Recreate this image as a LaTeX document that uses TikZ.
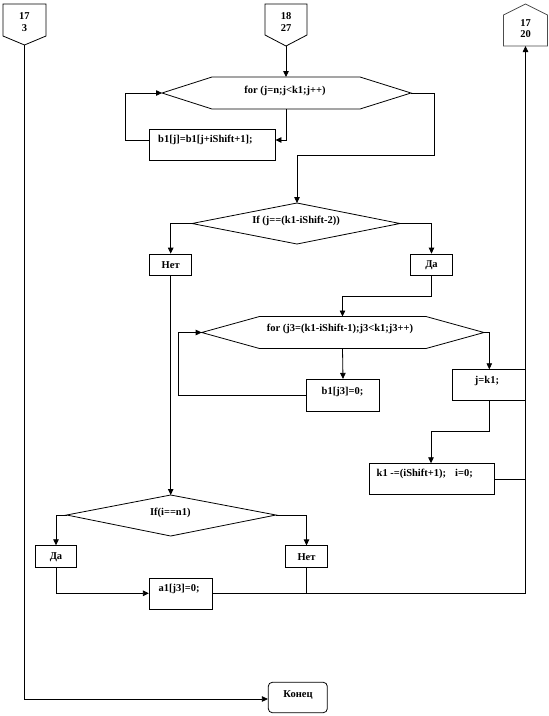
\documentclass[tikz,border=0pt]{standalone}
\usepackage{fontspec}
\setmainfont{Liberation Serif}
\usetikzlibrary{arrows.meta}
\begin{document}
\begin{tikzpicture}[x=1pt,y=-1pt,
  ln/.style={line width=.8pt, draw=black},
  arr/.style={ln, -{Triangle[length=6pt,width=5.5pt]}},
  box/.style={ln, rectangle, inner sep=0pt},
  lbl/.style={font=\bfseries\fontsize{10.5}{11.5}\selectfont, inner sep=0pt, align=center},
]
\useasboundingbox[fill=white] (0,0) rectangle (549,716);

% off-page connectors
\draw[ln] (3,4) -- (46,4) -- (46,36) -- (24.5,45) coordinate (c1p) -- (3,36) -- cycle;
\node[lbl] (c1t) at (24.5,22) {17\\3};
\draw[ln] (265,4) -- (307,4) -- (307,35) -- (286,46) coordinate (c2p) -- (265,35) -- cycle;
\node[lbl] (c2t) at (286,22) {18\\27};
\draw[ln, draw=black!70] (503.5,46) coordinate (c3b) -- (503.5,15) -- (525.5,4) -- (547.5,15) -- (547.5,46) -- cycle;
\coordinate (c3p) at (525.5,46);
\node[lbl] (c3t) at (525.5,28.5) {17\\20};

% for 1
\draw[ln] (162,93) coordinate (f1L) -- (212,77) -- (286,77) coordinate (f1T) -- (360,77) -- (411,93) coordinate (f1R)
  -- (360,109) -- (286,109) coordinate (f1B) -- (212,109) -- cycle;
\node[lbl] (f1t) at (285,91) {for (j=n;j<k1;j++)};

\node[box, minimum width=125.7pt, minimum height=31.4pt] (b1) at (212.2,145) {};
\node[lbl, anchor=west] (b1t) at (158,140) {b1[j]=b1[j+iShift+1];};

% if 1
\draw[ln] (297,203) coordinate (d1T) -- (400,223.5) coordinate (d1R) -- (297,244) coordinate (d1B) -- (192,223.5) coordinate (d1L) -- cycle;
\node[lbl] (d1t) at (296,221) {If (j==(k1-iShift-2))};

\node[box, minimum width=41.7pt, minimum height=21.7pt] (no1) at (170.7,264.9) {};
\node[lbl] (no1t) at (170.7,265.5) {Нет};
\node[box, minimum width=41.7pt, minimum height=21.7pt] (yes1) at (431.5,264.9) {};
\node[lbl] (yes1t) at (431.5,265.5) {Да};

% for 2
\draw[ln] (201.7,332.5) coordinate (f2L) -- (259.5,316.5) -- (342.5,316.5) coordinate (f2T) -- (426,316.5) -- (484,332.5) coordinate (f2R)
  -- (426,348.5) -- (342.5,348.5) coordinate (f2B) -- (259.5,348.5) -- cycle;
\node[lbl] (f2t) at (340,328.5) {for (j3=(k1-iShift-1);j3<k1;j3++)};

\node[box, minimum width=72.6pt, minimum height=31.7pt] (b2) at (343,395.2) {};
\node[lbl] (b2t) at (342.5,392) {b1[j3]=0;};

\node[box, minimum width=72.7pt, minimum height=31.4pt] (jk) at (488.7,385) {};
\node[lbl] (jkt) at (487,381) {j=k1;};

\node[box, minimum width=125pt, minimum height=30.7pt] (k1) at (431.8,478.7) {};
\node[lbl, anchor=west] (k1t) at (376.5,473.5) {k1 -=(iShift+1);\hspace{9pt}i=0;};

% if 2
\draw[ln] (170.7,495) coordinate (d2T) -- (276,515) coordinate (d2R) -- (170.7,536) coordinate (d2B) -- (66.7,515) coordinate (d2L) -- cycle;
\node[lbl] (d2t) at (170.3,513) {If(i==n1)};

\node[box, minimum width=41.7pt, minimum height=21.6pt] (yes2) at (56,556.5) {};
\node[lbl] (yes2t) at (56,557.5) {Да};
\node[box, minimum width=41.7pt, minimum height=21.6pt] (no2) at (306.5,556.6) {};
\node[lbl] (no2t) at (306.5,557.5) {Нет};

\node[box, minimum width=63pt, minimum height=31pt] (a1) at (180.8,593.8) {};
\node[lbl, anchor=west] (a1t) at (158.5,589) {a1[j3]=0;};

\node[box, rounded corners=4pt, minimum width=59pt, minimum height=30.4pt] (end) at (297.8,697.5) {};
\node[lbl] (endt) at (298,694.5) {Конец};

% connectors
\draw[arr] (c2p) -- (f1T);
\draw[arr] (f1B) -- (286,140) -- (b1.east |- 0,140);
\draw[arr] (b1.west |- 0,140) -- (125.5,140) -- (125.5,93) -- (f1L);
\draw[arr] (f1R) -- (434.5,93) -- (434.5,155) -- (297,155) -- (d1T);
\draw[arr] (d1L) -- (no1.north |- d1L) -- (no1.north);
\draw[arr] (d1R) -- (yes1.north |- d1R) -- (yes1.north);
\draw[arr] (yes1.south) -- (431.5,296) -- (342.5,296) -- (f2T);
\draw[arr] (f2B) -- (b2.north);
\draw[arr] (b2.west |- 0,395) -- (178.3,395) -- (178.3,332.5) -- (f2L);
\draw[arr] (f2R) -- (489.3,332.5) -- (489.3,369.3);
\draw[arr] (489.3,400.7) -- (489.3,431) -- (431,431) -- (431,463.3);
\draw[ln] (k1.east |- 0,479.3) -- (525.5,479.3);
\draw[arr] (no1.south) -- (d2T);
\draw[arr] (d2L) -- (yes2.north |- d2L) -- (yes2.north);
\draw[arr] (d2R) -- (no2.north |- d2R) -- (no2.north);
\draw[arr] (yes2.south) -- (56,593.3) -- (a1.west |- 0,593.3);
\draw[ln] (no2.south) -- (306.5,593.3);
\draw[arr] (a1.east |- 0,593.3) -- (525.5,593.3) -- (c3p);
\draw[arr] (c1p) -- (24.5,699) -- (end.west |- 0,699);
\end{tikzpicture}
\end{document}
